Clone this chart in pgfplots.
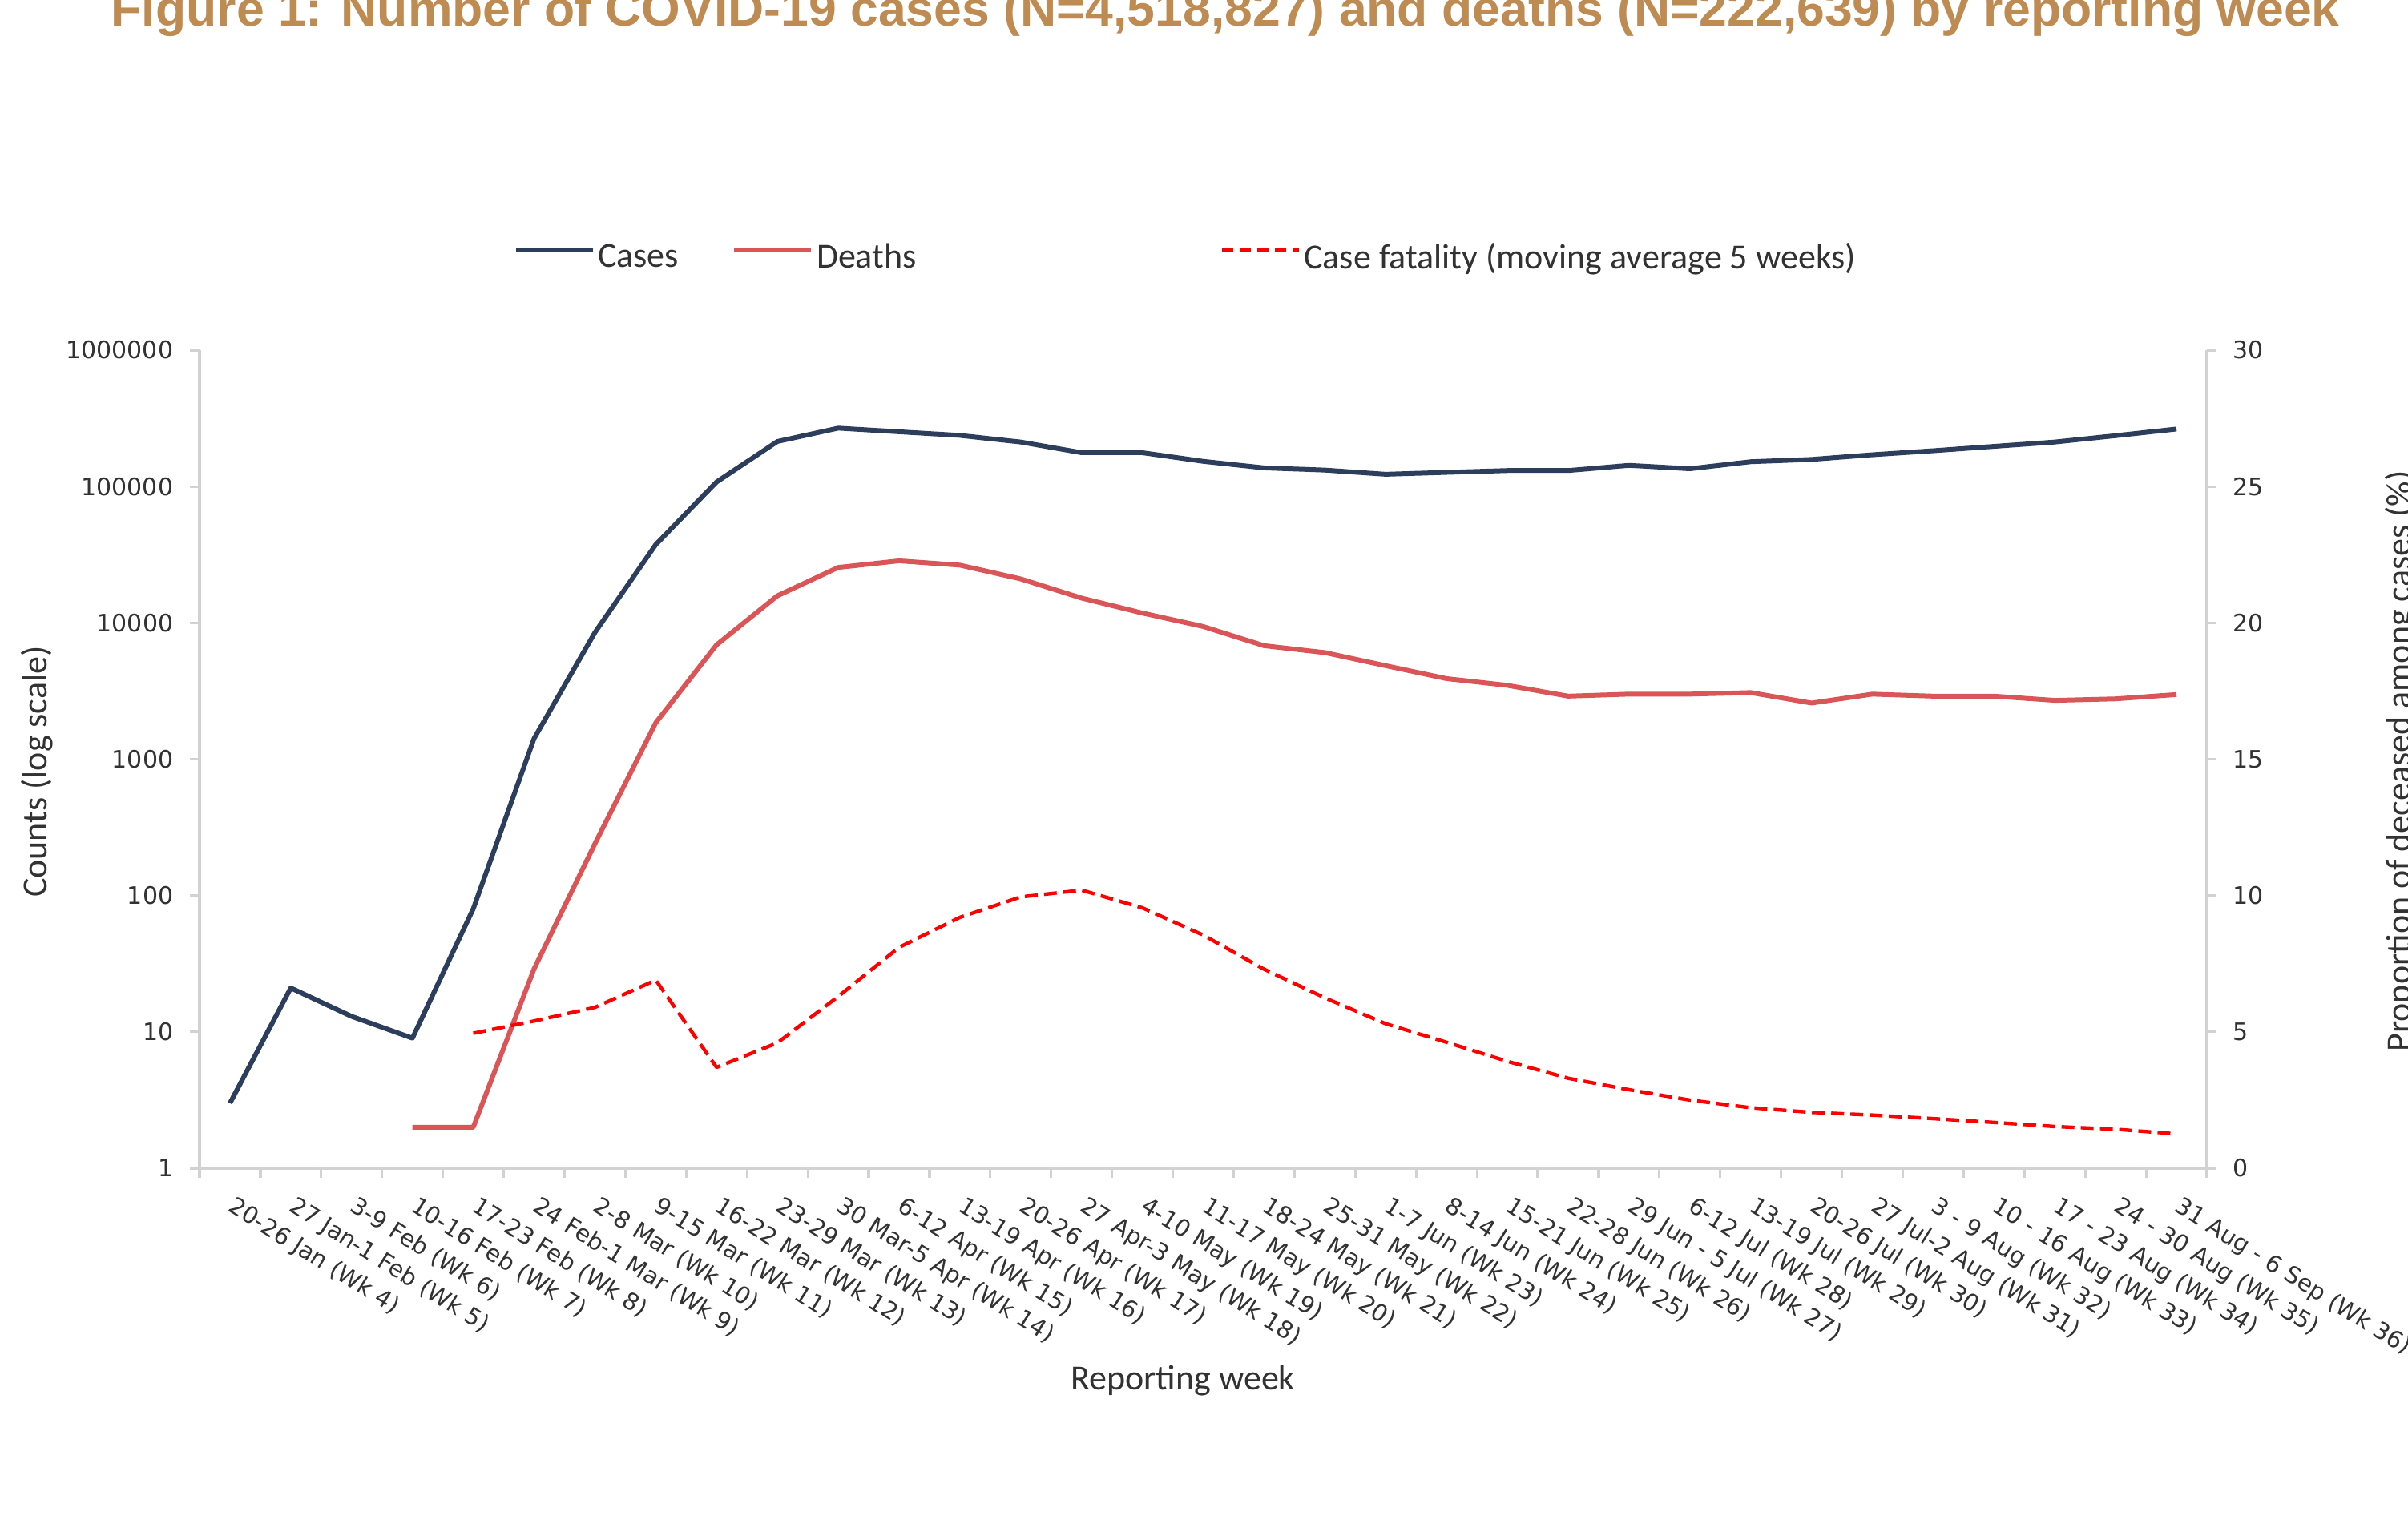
\documentclass[border=0pt]{standalone}
\usepackage{fontspec}
\setmainfont{Carlito}
\newfontfamily\dejavu{DejaVu Sans}
\newfontfamily\titlefont{Liberation Sans}
\usepackage{pgfplots}
\pgfplotsset{compat=1.18}

\definecolor{casecol}{RGB}{44,62,92}
\definecolor{deathcol}{RGB}{217,85,88}
\definecolor{cfrcol}{RGB}{255,0,0}
\definecolor{titlecol}{RGB}{190,139,82}
\definecolor{axgray}{RGB}{210,210,210}
\definecolor{txtgray}{RGB}{50,50,50}

\begin{document}
\begin{tikzpicture}
\pgfplotsset{
  base/.style={
    scale only axis, width=626.25pt, height=255.25pt,
    at={(0pt,0pt)}, anchor=south west,
    xmin=0.5, xmax=33.5,
    axis line style={axgray, line width=0.8pt, -},
    tick style={axgray, line width=0.8pt},
    tick align=outside,
    major tick length=3pt,
    clip=false,
  }
}

\begin{axis}[base,
  ymode=log, ymin=1, ymax=1000000,
  yminorticks=false,
  axis y line*=left, axis x line*=bottom,
  xtick={0.5,1.5,...,33.5},
  x tick label as interval,
  xticklabels={20-26 Jan (Wk 4),27 Jan-1 Feb (Wk 5),3-9 Feb (Wk 6),10-16 Feb (Wk 7),17-23 Feb (Wk 8),24 Feb-1 Mar (Wk 9),2-8 Mar (Wk 10),9-15 Mar (Wk 11),16-22 Mar (Wk 12),23-29 Mar (Wk 13),30 Mar-5 Apr (Wk 14),6-12 Apr (Wk 15),13-19 Apr (Wk 16),20-26 Apr (Wk 17),27 Apr-3 May (Wk 18),4-10 May (Wk 19),11-17 May (Wk 20),18-24 May (Wk 21),25-31 May (Wk 22),1-7 Jun (Wk 23),8-14 Jun (Wk 24),15-21 Jun (Wk 25),22-28 Jun (Wk 26),29 Jun - 5 Jul (Wk 27),6-12 Jul (Wk 28),13-19 Jul (Wk 29),20-26 Jul (Wk 30),27 Jul-2 Aug (Wk 31),3 - 9 Aug (Wk 32),10 - 16 Aug (Wk 33),17 - 23 Aug (Wk 34),24 - 30 Aug (Wk 35),31 Aug - 6 Sep (Wk 36)},
  xticklabel style={font=\dejavu\fontsize{7.3}{8}\selectfont, text=txtgray, xshift=2pt, yshift=-5.25pt, rotate=-32, anchor=north west, inner sep=0pt},
  ytick={1,10,100,1000,10000,100000,1000000},
  yticklabels={1,10,100,1000,10000,100000,1000000},
  yticklabel style={font=\dejavu\fontsize{7.5}{8}\selectfont, text=txtgray, anchor=east, inner sep=0pt, xshift=-5pt},
  legend style={draw=none, fill=none, at={(0.1513,1.1126)}, anchor=west,
    legend columns=3, font=\fontsize{11}{13}\selectfont, text=txtgray,
    /tikz/every even column/.append style={column sep=0pt},
    nodes={inner sep=0pt}},
  legend cell align=left,
  legend image code/.code={\draw[#1] (0pt,2.6pt) -- (24pt,2.6pt);},
]
\addplot[casecol, line width=1.5pt, line join=round] coordinates {
(1,3) (2,21) (3,13) (4,9) (5,80) (6,1420) (7,8500) (8,37500) (9,108000)
(10,214000) (11,268000) (12,252000) (13,237000) (14,212000) (15,177000)
(16,177000) (17,153000) (18,137000) (19,132000) (20,123000) (21,127000)
(22,131000) (23,131000) (24,143000) (25,135000) (26,152000) (27,158000)
(28,171000) (29,183000) (30,197000) (31,212000) (32,236000) (33,264000)};
\addlegendentry{\hspace{0.8pt}\makebox[41.75pt][l]{Cases}}
\addplot[deathcol, line width=1.5pt, line join=round] coordinates {
(4,2) (5,2) (6,29) (7,240) (8,1850) (9,6900) (10,15800) (11,25500)
(12,28500) (13,26500) (14,21000) (15,15200) (16,11800) (17,9400) (18,6800)
(19,6050) (20,4850) (21,3900) (22,3480) (23,2900) (24,3000) (25,3000)
(26,3080) (27,2580) (28,3000) (29,2900) (30,2900) (31,2700) (32,2770) (33,2980)};
\addlegendentry{\hspace{1pt}\makebox[126pt][l]{Deaths}}
\addlegendimage{cfrcol, line width=1.1pt, dash pattern=on 3.5pt off 2pt}
\addlegendentry{\hspace{1pt}Case fatality (moving average 5 weeks)}
\end{axis}

\begin{axis}[base,
  axis x line=none, axis y line*=right,
  ymin=0, ymax=30,
  ytick={0,5,10,15,20,25,30},
  yticklabels={0,5,10,15,20,25,30},
  yticklabel style={font=\dejavu\fontsize{7.5}{8}\selectfont, text=txtgray, anchor=west, inner sep=0pt, xshift=5pt},
]
\addplot[cfrcol, line width=1.1pt, dash pattern=on 4pt off 2pt, line join=round] coordinates {
(5,4.95) (6,5.4) (7,5.9) (8,6.9) (9,3.7) (10,4.6) (11,6.3) (12,8.1) (13,9.2)
(14,9.95) (15,10.2) (16,9.55) (17,8.55) (18,7.3) (19,6.25) (20,5.3) (21,4.62)
(22,3.92) (23,3.3) (24,2.88) (25,2.5) (26,2.22) (27,2.05) (28,1.95) (29,1.82)
(30,1.68) (31,1.53) (32,1.43) (33,1.26)};
\end{axis}

\node[rotate=90, anchor=center, inner sep=0pt, text=txtgray, font=\fontsize{11}{13}\selectfont] at (-50.6pt,123.75pt) {Counts (log scale)};
\node[rotate=90, anchor=north, inner sep=0pt, text=txtgray, font=\fontsize{11}{13}\selectfont] at (681.5pt,127pt) {Proportion of deceased among cases (\%)};
\node[anchor=center, inner sep=0pt, text=txtgray, font=\fontsize{11}{13}\selectfont] at (306.75pt,-66.25pt) {Reporting week};
\node[anchor=base west, inner sep=0pt, text=titlecol] at (-27.75pt,356.25pt) {\resizebox{695.25pt}{\height}{\titlefont\bfseries\fontsize{15.5}{18}\selectfont Figure 1: Number of COVID-19 cases (N=4,518,827) and deaths (N=222,639) by reporting week}};

\pgfresetboundingbox
\path[use as bounding box] (-62.25pt,-113.25pt) rectangle (689pt,364.5pt);
\end{tikzpicture}
\end{document}
